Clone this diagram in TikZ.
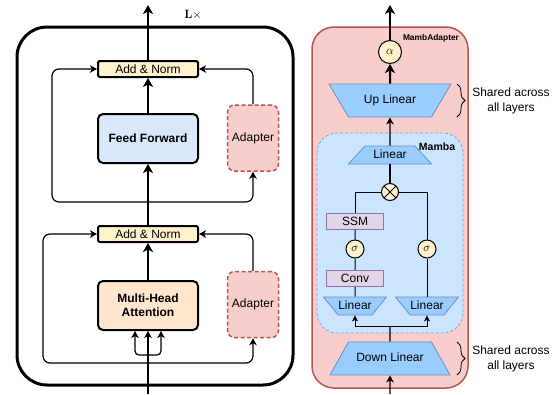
\documentclass[tikz,border=0pt]{standalone}
\usepackage{amsmath,amssymb}
\usepackage[no-math]{fontspec}
\setmainfont{Liberation Sans}
\usepackage{tikz}
\usetikzlibrary{
  arrows.meta,decorations.pathreplacing,positioning,shapes.geometric
}
\definecolor{normfill}{HTML}{FFF2CC}
\definecolor{fffill}{HTML}{DAE8FC}
\definecolor{attnfill}{HTML}{FFE6CC}
\definecolor{adfill}{HTML}{F8CECC}
\definecolor{addraw}{HTML}{B85450}
\definecolor{linfill}{HTML}{99CCFF}
\definecolor{lindraw}{HTML}{6C8EBF}
\definecolor{mambafill}{HTML}{CCE5FF}
\definecolor{mambadraw}{HTML}{7EA6E0}
\definecolor{opfill}{HTML}{E1D5E7}
\definecolor{opdraw}{HTML}{9673A6}
\tikzset{
  block/.style={draw,line width=2pt,rounded corners=5pt,minimum width=100pt,minimum height=49pt,inner sep=2pt},
  norm/.style={draw,fill=normfill,line width=2pt,rounded corners=2pt,minimum width=100pt,minimum height=16pt,inner sep=0pt},
  adapter/.style={draw=addraw,fill=adfill,line width=1.5pt,dash pattern=on 4pt off 2.5pt,
    rounded corners=7pt,minimum width=51pt,minimum height=66pt,inner sep=0pt},
  % text box fixed at 11.2pt, so the slant comes from the full height
  trap/.style={trapezium,trapezium stretches body,draw=lindraw,fill=linfill,line width=0.8pt,
    text height=8.7pt,text depth=2.5pt,inner xsep=0pt},
  tall/.style={trap,inner ysep=10.9pt,minimum height=33pt},
  flat/.style={trap,inner ysep=3.4pt,minimum height=18pt},
  smalltrap/.style={flat,trapezium angle=51,minimum width=63pt,shape border rotate=180},
  gate/.style={circle,draw,fill=normfill,line width=1pt,inner sep=0pt},
  op/.style={draw=opdraw,fill=opfill,line width=1pt,minimum width=57pt,minimum height=16pt,inner sep=0pt},
  brace/.style={decorate,decoration={brace,amplitude=8pt},line width=0.8pt},
  tag/.style={font=\bfseries\fontsize{8.4}{10}\selectfont,inner sep=0pt}
}
\tikzstyle{arrow} = [line width=1.2pt,-{Stealth[length=7pt,width=7.5pt,inset=2pt]},rounded corners=7pt]
\tikzstyle{smallarrow} = [line width=1pt,-{Stealth[length=6pt,width=6pt,inset=1.5pt]}]
\tikzstyle{bigarrow} = [line width=2pt,-{Stealth[length=9pt,width=10pt,inset=2.5pt]}]
\begin{document}
\fontsize{12}{14.4}\selectfont
\begin{tikzpicture}[x=1pt,y=-1pt]
  \useasboundingbox (0,0) rectangle (557,394);
  % encoder layer, repeated L times
  \draw[line width=3pt,rounded corners=30pt] (17,27) rectangle (293,385);
  \node[font=\fontsize{13}{15}\selectfont] (rep) at (193,15) {$\mathbf{L}\times$};
  \node[norm] (normA) at (148,69) {Add \& Norm};
  \node[block,fill=fffill,font=\bfseries] (ffn) at (148,138.5) {Feed Forward};
  \node[adapter] (adA) at (253,138) {Adapter};
  \node[norm] (normB) at (148,234) {Add \& Norm};
  \node[block,fill=attnfill,font=\bfseries,align=center] (mha) at (148,305.5) {Multi-Head\\Attention};
  \node[adapter] (adB) at (253,304.5) {Adapter};
  \coordinate (outA) at (148,5);
  \coordinate (splitA) at (148,202);
  \coordinate (resA) at (52,202);
  \coordinate (splitB) at (148,363);
  \coordinate (resB) at (43,363);
  \coordinate (fork) at (148,355);
  \coordinate (inA) at (148,394);
  \draw[bigarrow] (normA) -- (outA);
  \draw[bigarrow] (ffn) -- (normA);
  \draw[bigarrow] (normB) -- (ffn);
  \draw[bigarrow] (mha) -- (normB);
  % residual and adapter paths
  \draw[arrow] (splitA) -- (resA) |- (normA);
  \draw[arrow] (splitA) -| (adA);
  \draw[arrow] (adA) |- (normA);
  \draw[arrow] (splitB) -- (resB) |- (normB);
  \draw[arrow] (splitB) -| (adB);
  \draw[arrow] (adB) |- (normB);
  % q, k, v inputs
  \draw[line width=2pt] (inA) -- (fork);
  \draw[arrow] (fork) -- (mha);
  \draw[arrow,rounded corners=4pt] (fork) -| ([xshift=-13pt]mha.south);
  \draw[arrow,rounded corners=4pt] (fork) -| ([xshift=13pt]mha.south);

  % MambAdapter
  \draw[draw=addraw,fill=adfill,line width=1.5pt,rounded corners=22pt] (312,27) rectangle (468,388);
  \node[tag] (tagM) at (431,38) {MambAdapter};
  \draw[draw=mambadraw,fill=mambafill,line width=0.8pt,dash pattern=on 3pt off 2pt,rounded corners=20pt]
    (317,133) rectangle (463,333);
  \node[tag,font=\bfseries\fontsize{10.5}{12}\selectfont] (tagS) at (437,147) {Mamba};
  \node[gate,minimum size=23pt,font=\fontsize{13}{15}\selectfont] (alpha) at (390,52) {$\alpha$};
  \node[tall,trapezium angle=59.4,minimum width=122pt,shape border rotate=180]
    (up) at (390,100.5) {Up Linear};
  \node[flat,trapezium angle=47.5,minimum width=83pt] (linC) at (390,155) {Linear};
  \node[gate,minimum size=17pt,path picture={
      \draw[line width=0.8pt] (path picture bounding box.south west) -- (path picture bounding box.north east)
        (path picture bounding box.north west) -- (path picture bounding box.south east);}]
    (mul) at (390,192) {};
  \node[op] (ssm) at (355,221) {SSM};
  \node[gate,minimum size=18pt] (sigA) at (355,249) {$\sigma$};
  \node[op] (conv) at (355,278.5) {Conv};
  \node[smalltrap] (linL) at (355,306) {Linear};
  \node[gate,minimum size=18pt] (sigB) at (427,249) {$\sigma$};
  \node[smalltrap] (linR) at (427,306) {Linear};
  \node[tall,trapezium angle=60.7,minimum width=120pt] (down) at (390,358.5) {Down Linear};
  \coordinate (outB) at (390,5);
  \coordinate (inB) at (390,394);
  \coordinate (forkB) at (390,326);
  \draw[bigarrow] (alpha) -- (outB);
  \draw[bigarrow] (up) -- (alpha);
  \draw[arrow] (linC) -- (up);
  \draw[line width=2pt] (mul) -- (linC);
  \draw[line width=1pt] (mul) -| (ssm);
  \draw[line width=1pt] (ssm) -- (sigA) -- (conv) -- (linL);
  \draw[line width=1pt] (mul) -| (sigB);
  \draw[line width=1pt] (sigB) -- (linR);
  \draw[line width=1.2pt] (down) -- (forkB);
  \draw[smallarrow] (forkB) -| (linL);
  \draw[smallarrow] (forkB) -| (linR);
  \draw[arrow] (inB) -- (down);
  % shared weights
  \draw[brace] (457,84) -- (457,117);
  \node[align=center] (shareA) at (511,101) {Shared across\\all layers};
  \draw[brace] (457,342) -- (457,375);
  \node[align=center] (shareB) at (511,359) {Shared across\\all layers};
\end{tikzpicture}
\end{document}
